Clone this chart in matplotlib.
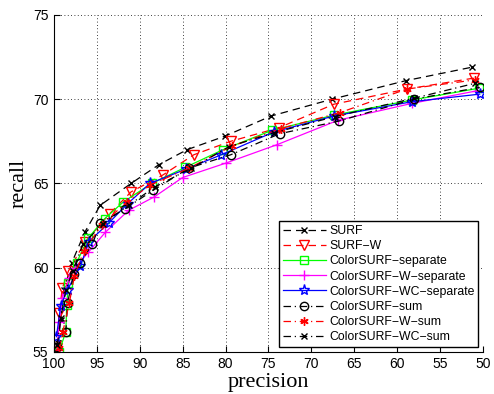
import matplotlib
matplotlib.use("Agg")
import matplotlib.pyplot as plt

# precision / recall values
surf_p = [99.5, 99.2, 98.8, 97.9, 96.4, 94.6, 91.0, 87.8, 84.5, 80.1, 74.7, 67.6, 59.0, 51.3]
surf_r = [55.5, 56.9, 58.7, 60.3, 62.1, 63.7, 65.0, 66.1, 67.0, 67.8, 69.0, 70.0, 71.1, 71.9]

surfw_p = [99.6, 99.4, 99.0, 98.3, 96.4, 93.5, 91.0, 87.3, 83.7, 79.4, 73.8, 67.4, 58.9, 51.1]
surfw_r = [55.2, 57.3, 58.8, 59.8, 61.5, 63.2, 64.5, 65.5, 66.7, 67.5, 68.3, 69.7, 70.6, 71.25]

sep_p = [99.4, 98.6, 98.5, 98.3, 97.35, 96.0, 94.1, 91.9, 88.6, 84.7, 80.3, 74.6, 67.4, 58.3, 50.5]
sep_r = [55.0, 56.2, 57.8, 59.1, 60.3, 61.75, 62.9, 63.9, 65.0, 65.95, 67.0, 68.15, 69.05, 69.95, 70.65]

wsep_p = [99.6, 99.4, 99.0, 98.2, 97.5, 96.0, 94.0, 91.3, 88.3, 85.0, 80.0, 74.0, 66.9, 58.3, 50.7]
wsep_r = [55.1, 56.8, 58.2, 59.4, 60.0, 60.9, 62.1, 63.4, 64.2, 65.35, 66.2, 67.3, 68.75, 69.75, 70.5]

wcsep_p = [99.7, 99.2, 98.4, 96.9, 95.9, 93.6, 91.4, 88.8, 84.6, 80.5, 74.4, 67.4, 58.3, 50.4]
wcsep_r = [55.9, 57.75, 58.7, 60.1, 61.55, 62.65, 63.8, 65.0, 65.85, 66.7, 68.05, 69.0, 69.85, 70.3]

sum_p = [99.6, 98.6, 98.4, 97.7, 96.9, 95.5, 94.6, 91.7, 88.4, 84.3, 79.4, 73.7, 66.8, 58.1, 50.4]
sum_r = [55.3, 56.2, 57.9, 59.6, 60.3, 61.4, 62.65, 63.5, 64.6, 65.9, 66.7, 67.95, 68.7, 70.0, 70.7]

wsum_p = [99.35, 98.95, 98.2, 97.6, 96.5, 94.4, 91.5, 88.8, 84.3, 79.3, 73.6, 66.7, 58.9, 50.9]
wsum_r = [55.2, 56.2, 57.9, 59.5, 61.0, 62.55, 63.9, 64.9, 65.9, 67.2, 68.25, 69.2, 70.6, 71.15]

wcsum_p = [99.6, 99.2, 98.6, 97.8, 96.6, 94.3, 91.3, 88.2, 84.0, 79.6, 74.4, 67.25, 58.1, 50.9]
wcsum_r = [55.4, 57.0, 58.7, 59.8, 61.4, 62.6, 63.7, 64.8, 65.9, 67.18, 68.0, 68.97, 70.05, 70.95]

x_ticks = [100, 95, 90, 85, 80, 75, 70, 65, 60, 55, 50]
y_ticks = [55, 60, 65, 70, 75]

plt.rcParams['font.family'] = ['Liberation Sans', 'DejaVu Sans']

fig = plt.figure(figsize=(4.94, 3.94), dpi=100)
ax = fig.add_axes([0.109, 0.107, 0.869, 0.855])

ms = 6
dash = (0, (6, 4))
dashdot = (0, (6, 3, 1, 3))
ax.plot(surf_p, surf_r, color='k', ls=dash, marker='x', ms=ms - 1, lw=0.9, label='SURF')
ax.plot(surfw_p, surfw_r, color='r', ls=dash, marker='v', ms=ms + 1, mfc='none', lw=0.9, label='SURF\u2212W')
ax.plot(sep_p, sep_r, color='#00ff00', ls='-', marker='s', ms=ms, mfc='none', lw=0.9, label='ColorSURF\u2212separate')
ax.plot(wsep_p, wsep_r, color='#ff00ff', ls='-', marker='+', ms=ms + 1, lw=0.9, label='ColorSURF\u2212W\u2212separate')
ax.plot(wcsep_p, wcsep_r, color='b', ls='-', marker='*', ms=ms + 2, mfc='none', lw=0.9, label='ColorSURF\u2212WC\u2212separate')
ax.plot(sum_p, sum_r, color='k', ls=dashdot, marker='o', ms=ms, mfc='none', lw=0.9, label='ColorSURF\u2212sum')
ax.plot(wsum_p, wsum_r, color='r', ls=dashdot, marker=(6, 2, 0), ms=ms, lw=0.9, label='ColorSURF\u2212W\u2212sum')
ax.plot(wcsum_p, wcsum_r, color='k', ls=dashdot, marker='x', ms=ms - 1, lw=0.9, label='ColorSURF\u2212WC\u2212sum')

ax.set_xlim(100, 50)
ax.set_ylim(55, 75)
ax.set_xticks(x_ticks)
ax.set_yticks(y_ticks)
ax.tick_params(direction='in', labelsize=10, length=4, width=0.8, top=False, right=False)
ax.tick_params(axis='y', pad=4)
ax.tick_params(axis='x', pad=4)
ax.grid(True, ls=(0, (1, 3)), color='k', lw=0.6)

for s in ['top', 'right']:
    ax.spines[s].set_visible(False)
for s in ['left', 'bottom']:
    ax.spines[s].set_linewidth(0.8)

ax.set_xlabel('precision', family=['Liberation Serif', 'DejaVu Serif'], fontsize=16, labelpad=1)
ax.set_ylabel('recall', family=['Liberation Serif', 'DejaVu Serif'], fontsize=16, labelpad=3)

leg = ax.legend(loc='lower right', fontsize=8.8, frameon=True, fancybox=False,
                edgecolor='k', framealpha=1, borderaxespad=0.4, handlelength=3.5,
                labelspacing=0.26, borderpad=0.3, handletextpad=0.3)
leg.get_frame().set_linewidth(1.0)

fig.savefig('out.png', dpi=100)
